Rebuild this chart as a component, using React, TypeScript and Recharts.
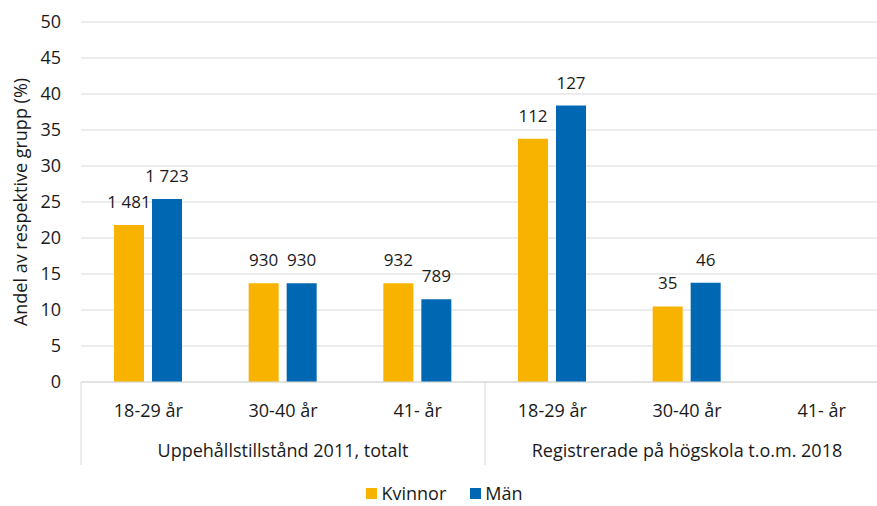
import { BarChart, Bar, XAxis, YAxis, CartesianGrid, Legend, LabelList } from "recharts";

const ageGroups = ["18-29 år", "30-40 år", "41- år", "18-29 år", "30-40 år", "41- år"];
const studyGroups = [
  "Uppehållstillstånd 2011, totalt",
  "Uppehållstillstånd 2011, totalt",
  "Uppehållstillstånd 2011, totalt",
  "Registrerade på högskola t.o.m. 2018",
  "Registrerade på högskola t.o.m. 2018",
  "Registrerade på högskola t.o.m. 2018",
];
const kvinnorPct = [21.8, 13.7, 13.7, 33.8, 10.5, null];
const manPct = [25.4, 13.7, 11.5, 38.4, 13.8, null];
const kvinnorCount = ["1 481", "930", "932", "112", "35", ""];
const manCount = ["1 723", "930", "789", "127", "46", ""];
const yTicks = [0, 5, 10, 15, 20, 25, 30, 35, 40, 45, 50];

const data = ageGroups.map((age, i) => ({
  age,
  group: studyGroups[i],
  kvinnor: kvinnorPct[i],
  man: manPct[i],
  kCount: kvinnorCount[i],
  mCount: manCount[i],
}));

const FONT = "'Open Sans', sans-serif";
const TEXT = "#1a1a1a";
const GRID = "#d9d9d9";
const ORANGE = "#F8B200";
const BLUE = "#0068B2";

const AgeTick = (props: any) => {
  const { x, y, payload } = props;
  const index = props.index ?? payload.index;
  const half = payload.offset ?? 0;
  const group = studyGroups[index];
  const isFirst = index === 0 || studyGroups[index - 1] !== group;
  let n = 0;
  for (let j = index; j < studyGroups.length && studyGroups[j] === group; j++) n++;
  const isLastGroup = index + n >= studyGroups.length;
  return (
    <g>
      <text x={x} y={y + 28} textAnchor="middle" dominantBaseline="central" fontSize={18} fill={TEXT} fontFamily={FONT}>
        {payload.value}
      </text>
      {isFirst && (
        <>
          <line x1={x - half} x2={x - half} y1={y} y2={y + 83} stroke={GRID} />
          {isLastGroup && (
            <line x1={x - half + 2 * n * half} x2={x - half + 2 * n * half} y1={y} y2={y + 83} stroke={GRID} />
          )}
          <text x={x - half + n * half} y={y + 68} textAnchor="middle" dominantBaseline="central" fontSize={18} fill={TEXT} fontFamily={FONT}>
            {group}
          </text>
        </>
      )}
    </g>
  );
};

const YTitle = ({ viewBox }: any) => {
  const cx = viewBox.x + 20;
  const cy = viewBox.y + viewBox.height / 2;
  return (
    <text x={cx} y={cy} transform={`rotate(-90 ${cx} ${cy})`} textAnchor="middle" dominantBaseline="central" fontSize={18} fill={TEXT} fontFamily={FONT}>
      Andel av respektive grupp (%)
    </text>
  );
};

const CountLabel = (props: any) => {
  const { x, y, width, value } = props;
  if (!value) return null;
  return (
    <text x={x + width / 2} y={y - 17} textAnchor="middle" fontSize={17} fill={TEXT} fontFamily={FONT}>
      {value}
    </text>
  );
};

const LegendContent = () => (
  <div style={{ display: "flex", justifyContent: "center", alignItems: "center", marginTop: 16, height: 22, lineHeight: "22px", fontFamily: FONT, fontSize: 18, color: TEXT }}>
    <span style={{ display: "inline-block", width: 11, height: 11, background: ORANGE, marginRight: 4 }} />
    <span style={{ marginRight: 24 }}>Kvinnor</span>
    <span style={{ display: "inline-block", width: 11, height: 11, background: BLUE, marginRight: 4 }} />
    <span>Män</span>
  </div>
);

export default function App() {
  return (
    <div style={{ position: "absolute", left: 0, top: 0, width: 877, height: 506, overflow: "hidden", background: "#fff" }}>
      <BarChart width={900} height={506} data={data} margin={{ top: 22, right: 11, left: 0, bottom: 0 }} barSize={30} barGap={8}>
        <CartesianGrid vertical={false} stroke={GRID} />
        <XAxis
          dataKey="age"
          interval={0}
          tickLine={false}
          tickSize={0}
          tickMargin={0}
          axisLine={{ stroke: GRID }}
          height={84}
          tick={<AgeTick />}
        />
        <YAxis
          domain={[0, 50]}
          ticks={yTicks}
          width={81}
          axisLine={false}
          tickLine={false}
          tickSize={6}
          tickMargin={14}
          tick={{ fontSize: 18, fill: TEXT, fontFamily: FONT }}
          label={<YTitle />}
        />
        <Legend verticalAlign="bottom" height={40} content={<LegendContent />} />
        <Bar dataKey="kvinnor" name="Kvinnor" fill={ORANGE} isAnimationActive={false}>
          <LabelList dataKey="kCount" content={<CountLabel />} />
        </Bar>
        <Bar dataKey="man" name="Män" fill={BLUE} isAnimationActive={false}>
          <LabelList dataKey="mCount" content={<CountLabel />} />
        </Bar>
      </BarChart>
    </div>
  );
}
